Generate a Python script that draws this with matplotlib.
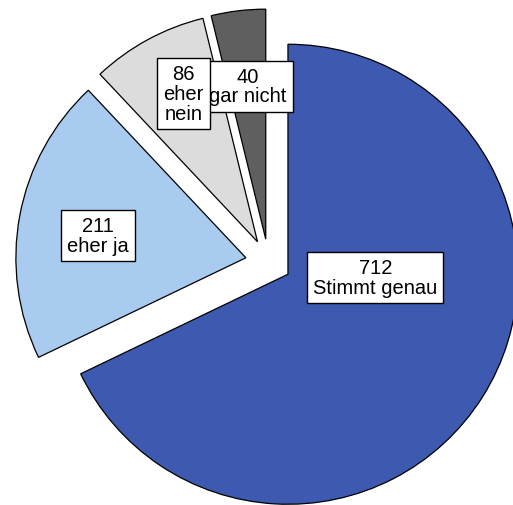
import matplotlib
matplotlib.use("Agg")
import matplotlib.pyplot as plt
import numpy as np

# Antworthäufigkeiten
categories = ["Stimmt genau", "eher ja", "eher nein", "gar nicht"]
counts = [712, 211, 86, 40]
colors = ["#3d59b0", "#a9cbef", "#dcdcdc", "#5f5f5f"]

plt.rcParams["font.family"] = ["Liberation Sans", "DejaVu Sans"]

fig = plt.figure(figsize=(5.13, 5.06), dpi=100)
ax = fig.add_axes([0, 0, 1, 1])

wedges, _ = ax.pie(
    counts,
    colors=colors,
    startangle=90,
    counterclock=False,
    explode=[0.1] * len(counts),
    radius=1.0,
    wedgeprops=dict(edgecolor="black", linewidth=0.9),
)

# label placement relative to each wedge's apex
label_dist = [0.38, 0.65, 0.72, 0.67]
label_shift = [30.0, 2.0, -2.0, -0.2]
label_z = [5, 5, 6, 5]
for w, n, cat, d, s, z in zip(wedges, counts, categories, label_dist, label_shift, label_z):
    mid = np.deg2rad((w.theta1 + w.theta2) / 2 + s)
    cx, cy = w.center
    ax.text(cx + d * np.cos(mid), cy + d * np.sin(mid),
            f"{n}\n" + cat.replace("eher nein", "eher\nnein"),
            ha="center", va="center", fontsize=14.5, linespacing=1.05, zorder=z,
            bbox=dict(boxstyle="square,pad=0.3", fc="white", ec="black", lw=1.0))

# centre of the pie sits slightly right of and above the middle of the figure
ax.set_aspect("auto")
ax.set_xlim(-268.5 / 230, (513 - 268.5) / 230)
ax.set_ylim(-(506 - 263) / 230, 263 / 230)
ax.axis("off")

fig.savefig("out.png", dpi=100, facecolor="white")
